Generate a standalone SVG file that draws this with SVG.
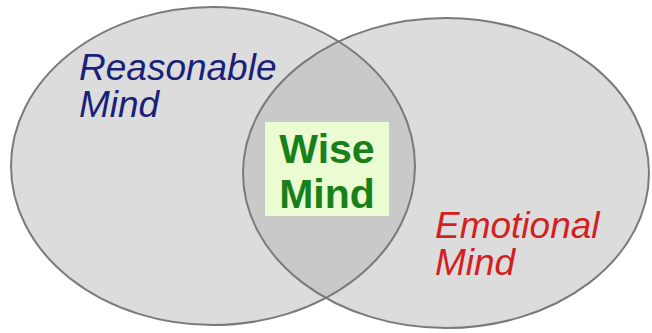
<svg xmlns="http://www.w3.org/2000/svg" width="652" height="333" viewBox="0 0 652 333">
<style>
.circ{fill:#dcdcdc;stroke:none}
.edge{fill:none;stroke:#7a7a7a;stroke-width:2}
.lbl{font-family:"Liberation Sans",Arial,sans-serif;font-size:37px;font-style:italic}
.wise{font-family:"Liberation Sans",Arial,sans-serif;font-size:41px;font-weight:bold;fill:#17801a;text-anchor:middle}
</style>
<defs>
<clipPath id="clipL"><ellipse cx="213" cy="166" rx="202" ry="159"/></clipPath>
</defs>
<rect width="652" height="333" fill="#ffffff"/>
<g id="reasonable">
<ellipse class="circ" cx="213" cy="166" rx="202" ry="159"/>
</g>
<g id="emotional">
<ellipse class="circ" cx="446" cy="173" rx="203" ry="155"/>
</g>
<g id="overlap">
<ellipse cx="446" cy="173" rx="203" ry="155" fill="#c9c9c9" clip-path="url(#clipL)"/>
</g>
<g id="outlines">
<ellipse class="edge" cx="213" cy="166" rx="202" ry="159"/>
<ellipse class="edge" cx="446" cy="173" rx="203" ry="155"/>
</g>
<g id="reasonable-label">
<text class="lbl" fill="#1a1f7a" x="79" y="80">Reasonable</text>
<text class="lbl" fill="#1a1f7a" x="79" y="117">Mind</text>
</g>
<g id="emotional-label">
<text class="lbl" fill="#d41f1f" x="435" y="238">Emotional</text>
<text class="lbl" fill="#d41f1f" x="435" y="275">Mind</text>
</g>
<g id="wise">
<rect x="265" y="122" width="124" height="94" fill="#ebfbd2"/>
<text class="wise" x="327" y="163">Wise</text>
<text class="wise" x="327" y="208">Mind</text>
</g>
</svg>
